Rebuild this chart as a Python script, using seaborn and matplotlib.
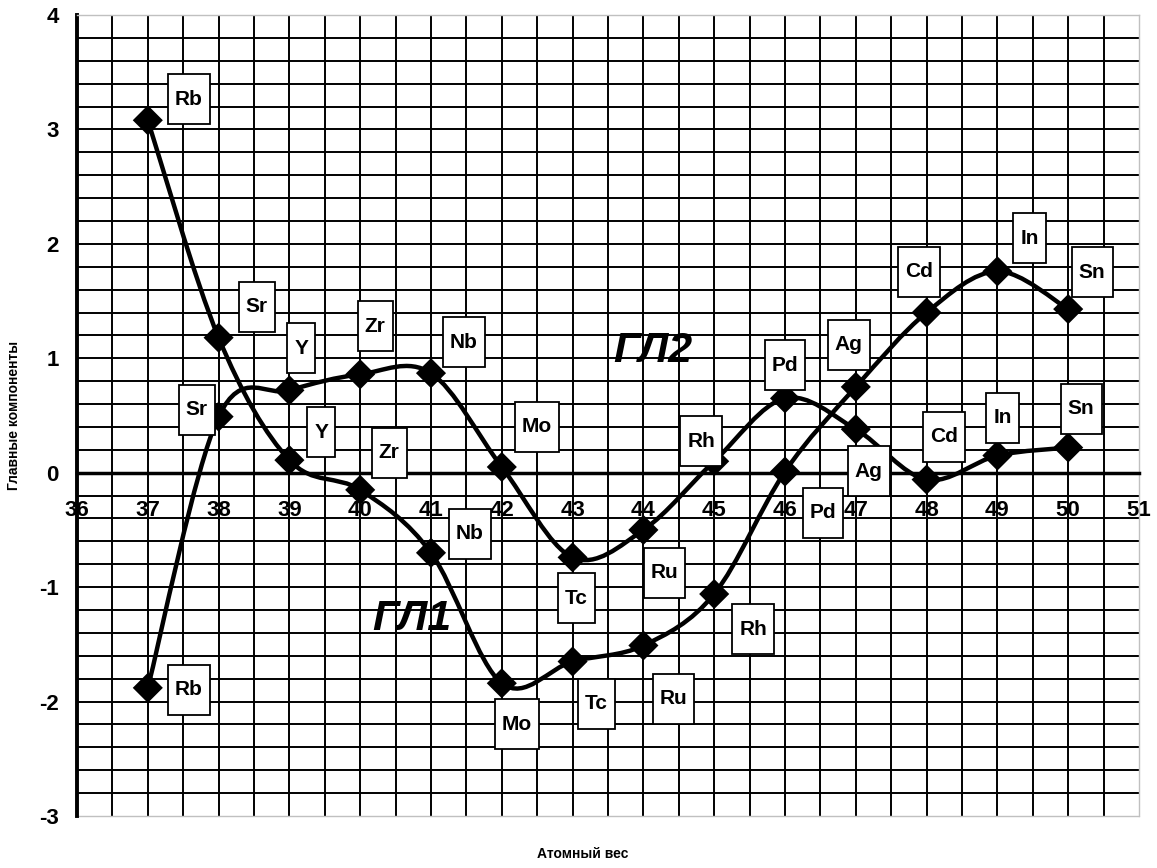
import numpy as np
import pandas as pd
import matplotlib
matplotlib.use("Agg")
import matplotlib.pyplot as plt
import seaborn as sns
from matplotlib.path import Path
from matplotlib.patches import PathPatch, Rectangle
from matplotlib.ticker import FixedLocator, MultipleLocator
from matplotlib.transforms import ScaledTranslation

# ===== 数据 =====
atomic_no = [37, 38, 39, 40, 41, 42, 43, 44, 45, 46, 47, 48, 49, 50]
elements = ["Rb", "Sr", "Y", "Zr", "Nb", "Mo", "Tc", "Ru", "Rh", "Pd", "Ag", "Cd", "In", "Sn"]
gl1 = [3.08, 1.18, 0.11, -0.15, -0.70, -1.84, -1.65, -1.51, -1.06, 0.01, 0.75, 1.40, 1.76, 1.43]
gl2 = [-1.88, 0.49, 0.72, 0.86, 0.87, 0.05, -0.74, -0.50, 0.10, 0.65, 0.38, -0.06, 0.15, 0.22]

# 标签框相对点的偏移 (像素)
gl1_offsets = [(41, 21), (38, 31), (32, 28), (29, 37), (39, 19), (15, -41), (24, -42),
               (30, -53), (39, -35), (38, -41), (-7, 42), (-8, 41), (32, 33), (24, 37)]
gl2_offsets = [(41, -2), (-22, 7), (12, 42), (15, 48), (33, 31), (35, 40), (4, -41),
               (21, -43), (-13, 20), (0, 33), (13, -42), (17, 43), (5, 38), (13, 39)]

DPI = 100
BOX_H = 50


def smooth_path(xs, ys):
    """Excel 风格平滑线 (Catmull-Rom -> 三次贝塞尔)"""
    pts = np.column_stack([xs, ys]).astype(float)
    ext = np.vstack([pts[0], pts, pts[-1]])
    verts, codes = [pts[0]], [Path.MOVETO]
    for i in range(len(pts) - 1):
        p0, p1, p2, p3 = ext[i], ext[i + 1], ext[i + 2], ext[i + 3]
        verts += [p1 + (p2 - p0) / 6, p2 - (p3 - p1) / 6, p2]
        codes += [Path.CURVE4] * 3
    return Path(verts, codes)


sns.set_style("white")
plt.rcParams["font.family"] = ["Liberation Sans", "DejaVu Sans"]
plt.rcParams["axes.unicode_minus"] = False
for k in ("text.color", "axes.labelcolor", "xtick.color", "ytick.color"):
    plt.rcParams[k] = "black"

fig = plt.figure(figsize=(11.57, 8.68), dpi=DPI)
ax = fig.add_axes([77 / 1157, 52 / 868, 1062 / 1157, 801 / 868])

# ===== 网格 =====
ax.xaxis.set_major_locator(MultipleLocator(1))
ax.yaxis.set_major_locator(MultipleLocator(1))
ax.xaxis.set_minor_locator(FixedLocator(np.round(np.arange(36.5, 50.9, 0.5), 1)))
ax.yaxis.set_minor_locator(FixedLocator(np.round(np.arange(-2.8, 3.9, 0.2), 1)))
ax.xaxis.remove_overlapping_locs = False
ax.yaxis.remove_overlapping_locs = False
ax.grid(which="major", visible=False)
ax.grid(which="minor", color="black", lw=1.4)
ax.set_axisbelow(True)

# ===== 曲线 =====
for ys in (gl1, gl2):
    ax.add_patch(PathPatch(smooth_path(atomic_no, ys), fill=False, edgecolor="black",
                           lw=3.2, zorder=3, capstyle="round", joinstyle="round"))

df = pd.DataFrame({
    "x": atomic_no * 2,
    "y": gl1 + gl2,
    "series": ["ГЛ1"] * len(gl1) + ["ГЛ2"] * len(gl2),
})
sns.scatterplot(data=df, x="x", y="y", hue="series", palette=["black", "black"],
                marker="D", s=235, linewidth=0, legend=False, zorder=4, ax=ax)

ax.set_xlim(36, 51)
ax.set_ylim(-3, 4)

# ===== 坐标轴 =====
ax.spines["bottom"].set_position(("data", 0))
ax.spines["bottom"].set_linewidth(2.5)
ax.spines["left"].set_linewidth(2.8)
ax.spines["bottom"].set_color("black")
ax.spines["left"].set_color("black")
for s in ("top", "right"):
    ax.spines[s].set_color("#c0c0c0")
    ax.spines[s].set_linewidth(1.0)
ax.axhline(-3, color="#c0c0c0", lw=1.0, clip_on=False, zorder=1)

ax.tick_params(which="minor", length=0)
ax.tick_params(axis="x", which="major", direction="inout", length=6, width=2,
               pad=17, labelsize=16, colors="black")
ax.tick_params(axis="y", which="major", direction="out", length=5, width=2.5,
               pad=8, labelsize=16, colors="black")
for lab in ax.get_xticklabels() + ax.get_yticklabels():
    lab.set_fontweight("bold")

ax.set_xlabel("Атомный вес", fontsize=10, fontweight="bold")
ax.set_ylabel("Главные компоненты", fontsize=10, fontweight="bold")
ax.xaxis.set_label_coords(0.476, -0.039)
ax.yaxis.set_label_coords(-0.053, 0.5)

ax.text(40.73, -1.28, "ГЛ1", fontsize=31, fontweight="bold", fontstyle="italic",
        ha="center", va="center", zorder=5)
ax.text(44.14, 1.06, "ГЛ2", fontsize=31, fontweight="bold", fontstyle="italic",
        ha="center", va="center", zorder=5)

# ===== 数据标签 =====
fig.canvas.draw()
renderer = fig.canvas.get_renderer()
for ys, offs in ((gl1, gl1_offsets), (gl2, gl2_offsets)):
    for x, y, name, (dx, dy) in zip(atomic_no, ys, elements, offs):
        t = ax.annotate(name, xy=(x, y), xytext=(dx, dy), textcoords="offset pixels",
                        ha="center", va="center", fontsize=15, fontweight="bold",
                        zorder=7, annotation_clip=False)
        w = t.get_window_extent(renderer).width + 14
        rect = Rectangle(((dx - w / 2) / DPI, (dy - BOX_H / 2) / DPI), w / DPI, BOX_H / DPI,
                         transform=fig.dpi_scale_trans + ScaledTranslation(x, y, ax.transData),
                         facecolor="white", edgecolor="black", lw=1.3, zorder=6, clip_on=False)
        ax.add_artist(rect)

ax.set_xlim(36, 51)
ax.set_ylim(-3, 4)
fig.savefig("out.png", dpi=DPI)
